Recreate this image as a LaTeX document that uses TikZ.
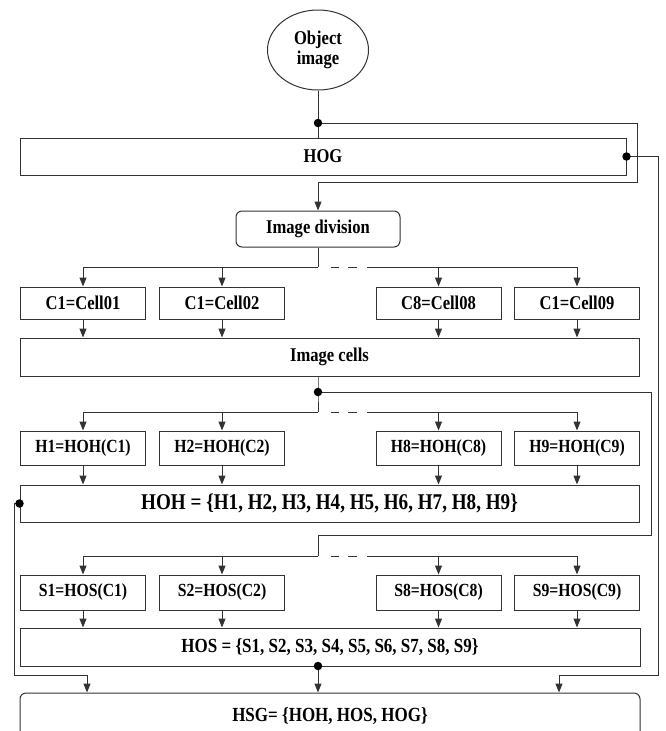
\documentclass[tikz,border=0pt]{standalone}
\usepackage{fontspec}
\setmainfont{Liberation Serif}[FakeStretch=0.85]
\usetikzlibrary{arrows.meta,shapes.geometric}
\begin{document}
\begin{tikzpicture}[x=1pt,y=-1pt,
  ln/.style={draw=black!80,line width=1pt},
  arr/.style={ln,-{Triangle[length=9pt,width=7pt]}},
  boxb/.style={ln,rectangle,inner sep=0pt,text=black,font=\fontsize{19.5}{22}\selectfont\bfseries},
  boxm/.style={ln,rectangle,inner sep=0pt,text=black,font=\fontsize{18.5}{22}\selectfont\bfseries},
  cellbox/.style={boxb,minimum width=125pt,minimum height=32pt},
  hbox/.style={boxm,minimum width=125pt,minimum height=34pt},
  sbox/.style={boxm,minimum width=125pt,minimum height=35pt},
  jdot/.style={circle,fill=black,inner sep=0pt,minimum size=8.5pt},
  dsh/.style={ln}]
\useasboundingbox (0,0) rectangle (665,731);
\fill[white] (0,0) rectangle (665,731);

% nodes
\node[ellipse,ln,minimum width=101pt,minimum height=80pt,inner sep=0pt,align=center,
      font=\fontsize{19.5}{20}\selectfont\bfseries] (obj) at (318,50) {Object\\image};
\node[boxb,minimum width=606pt,minimum height=37pt] (hog) at (323,156.5) {HOG};
\node[boxb,rounded corners=6pt,minimum width=164pt,minimum height=36pt] (div) at (318,229) {Image division};

\node[cellbox] (c1) at (83,303) {C1=Cell01};
\node[cellbox] (c2) at (222,303) {C1=Cell02};
\node[cellbox] (c8) at (438.5,303) {C8=Cell08};
\node[cellbox] (c9) at (577,303) {C1=Cell09};
\node[boxb,minimum width=619pt,minimum height=38pt] (cells) at (329.5,357) {Image cells};

\node[hbox] (h1) at (83,448) {H1=HOH(C1)};
\node[hbox] (h2) at (222,448) {H2=HOH(C2)};
\node[hbox] (h8) at (438.5,448) {H8=HOH(C8)};
\node[hbox] (h9) at (577,448) {H9=HOH(C9)};
\node[boxb,minimum width=619pt,minimum height=37pt,font=\fontsize{22.5}{24}\selectfont\bfseries] (hoh) at (329.5,503.5) {HOH = \{H1, H2, H3, H4, H5, H6, H7, H8, H9\}};

\node[sbox] (s1) at (83,592.5) {S1=HOS(C1)};
\node[sbox] (s2) at (222,592.5) {S2=HOS(C2)};
\node[sbox] (s8) at (438.5,592.5) {S8=HOS(C8)};
\node[sbox] (s9) at (577,592.5) {S9=HOS(C9)};
\node[boxb,minimum width=620pt,minimum height=38pt,font=\fontsize{20}{22}\selectfont\bfseries] (hos) at (330,647) {HOS = \{S1, S2, S3, S4, S5, S6, S7, S8, S9\}};

\node[boxb,rounded corners=6pt,minimum width=620pt,minimum height=46pt,font=\fontsize{20}{22}\selectfont\bfseries] (hsg) at (330,716) {HSG= \{HOH, HOS, HOG\}};

% junction coordinates
\coordinate (d1) at (318,123);
\coordinate (d3) at (318,392);
\coordinate (d5) at (318,666);
\coordinate (j1) at (318,267);
\coordinate (j1r) at (367,267);
\coordinate (j2) at (318,412);
\coordinate (j2r) at (367,412);
\coordinate (j3) at (318,556);
\coordinate (j3r) at (367,556);
\coordinate (la) at (87,675);
\coordinate (ra) at (559,675);

% top
\draw[ln] (obj.south) -- (obj.south |- hog.north);
\draw[arr] (d1) -- (637,123) |- (318,182) -- (div.north);
\draw[arr] (hog.east) -- (658,156.5) |- (ra) -- (ra |- hsg.north);
\node[jdot] at (d1) {};
\node[jdot] at (hog.east) {};

% cells row
\draw[ln] (div.south) -- (j1);
\draw[arr] (j1) -| (c1.north);
\draw[arr] (j1) -| (c2.north);
\draw[arr] (j1r) -| (c8.north);
\draw[arr] (j1r) -| (c9.north);
\draw[dsh] (331,267) -- (339,267);
\draw[dsh] (348,267) -- (357,267);
\foreach \c in {c1,c2,c8,c9} \draw[arr] (\c.south) -- (\c.south |- cells.north);

% H row
\draw[ln] (d3 |- cells.south) -- (d3) -- (j2);
\draw[ln] (d3) -- (651,392) |- (318,535) -- (j3);
\node[jdot] at (d3) {};
\draw[arr] (j2) -| (h1.north);
\draw[arr] (j2) -| (h2.north);
\draw[arr] (j2r) -| (h8.north);
\draw[arr] (j2r) -| (h9.north);
\draw[dsh] (331,412) -- (339,412);
\draw[dsh] (348,412) -- (357,412);
\foreach \c in {h1,h2,h8,h9} \draw[arr] (\c.south) -- (\c.south |- hoh.north);

% S row
\draw[arr] (j3) -| (s1.north);
\draw[arr] (j3) -| (s2.north);
\draw[arr] (j3r) -| (s8.north);
\draw[arr] (j3r) -| (s9.north);
\draw[dsh] (331,556) -- (339,556);
\draw[dsh] (348,556) -- (357,556);
\foreach \c in {s1,s2,s8,s9} \draw[arr] (\c.south) -- (\c.south |- hos.north);

% to HSG
\draw[arr] (hoh.west) -- (14,503.5) |- (la) -- (la |- hsg.north);
\node[jdot] at (hoh.west) {};
\draw[arr] (d5) -- (d5 |- hsg.north);
\node[jdot] at (d5) {};
\end{tikzpicture}
\end{document}
